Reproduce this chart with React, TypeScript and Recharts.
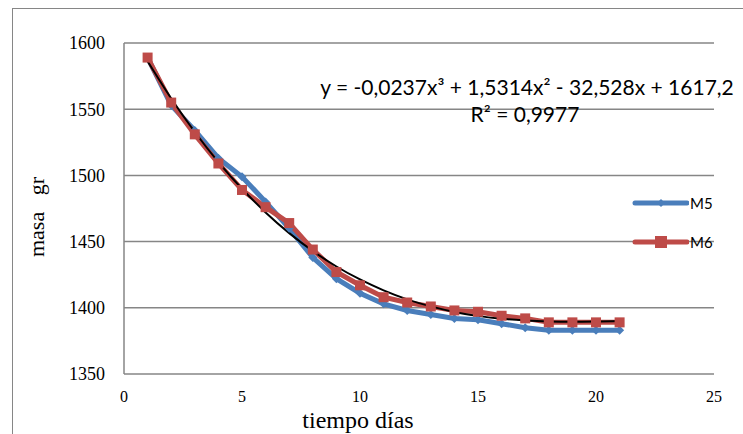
import React from 'react';
import { LineChart, Line, XAxis, YAxis, CartesianGrid, Customized } from 'recharts';

const days = [1, 2, 3, 4, 5, 6, 7, 8, 9, 10, 11, 12, 13, 14, 15, 16, 17, 18, 19, 20, 21];
const m5 = [1589, 1553, 1534, 1513, 1499, 1480, 1460, 1438, 1422, 1411, 1403, 1398, 1395, 1392, 1391, 1388, 1385, 1383, 1383, 1383, 1383];
const m6 = [1589, 1555, 1531, 1509, 1489, 1476, 1464, 1444, 1427, 1417, 1408, 1404, 1401, 1398, 1397, 1394, 1392, 1389, 1389, 1389, 1389];
const trend = [1586.2, 1558.1, 1532.8, 1510.1, 1489.9, 1472.0, 1456.4, 1442.9, 1431.2, 1421.4, 1413.2, 1406.4, 1401.1, 1396.9, 1393.9, 1391.7, 1390.4, 1389.7, 1389.5, 1389.6, 1390.0];
const xTicks = [0, 5, 10, 15, 20, 25];
const yTicks = [1350, 1400, 1450, 1500, 1550, 1600];
const seriesNames = ['M5', 'M6'];
const equationText = 'y = -0,0237x³ + 1,5314x² - 32,528x + 1617,2';
const r2Text = 'R² = 0,9977';
const xTitle = 'tiempo días';
const yTitle = 'masa   gr';

const BLUE = '#4A7EBB';
const RED = '#BE4B48';
const GRID = '#868686';
const SERIF = '"Liberation Serif", "Times New Roman", serif';
const SANS = 'Lato, "Open Sans", sans-serif';

const data = days.map((d, i) => ({ day: d, M5: m5[i], M6: m6[i], trend: trend[i] }));

const diamondDot = (props: any) => {
  const { cx, cy, index } = props;
  if (cx == null || cy == null) return <g key={`d5-${index}`} />;
  const r = 4.5;
  return (
    <polygon
      key={`d5-${index}`}
      points={`${cx},${cy - r} ${cx + r},${cy} ${cx},${cy + r} ${cx - r},${cy}`}
      fill={BLUE}
    />
  );
};

const squareDot = (props: any) => {
  const { cx, cy, index } = props;
  if (cx == null || cy == null) return <g key={`d6-${index}`} />;
  const s = 10;
  return <rect key={`d6-${index}`} x={cx - s / 2} y={cy - s / 2} width={s} height={s} fill={RED} />;
};

const LegendBox = () => (
  <div style={{ position: 'absolute', left: 631, top: 193, width: 110, fontFamily: SANS, fontSize: 15, color: '#000' }}>
    {seriesNames.map((name, i) => (
      <div key={name} style={{ display: 'flex', alignItems: 'center', height: 20, marginBottom: i === 0 ? 19 : 0 }}>
        <svg width={58} height={20} style={{ display: 'block' }}>
          <line x1={4} y1={10} x2={56} y2={10} stroke={i === 0 ? BLUE : RED} strokeWidth={5} strokeLinecap="round" />
          {i === 0 ? (
            <polygon points="30,6 34,10 30,14 26,10" fill={BLUE} />
          ) : (
            <rect x={24} y={4} width={12} height={12} fill={RED} />
          )}
        </svg>
        <span style={{ marginLeft: 1 }}>{name}</span>
      </div>
    ))}
  </div>
);

const Annotations = () => (
  <g>
    <text x={527} y={95} textAnchor="middle" fontFamily={SANS} fontSize={21} fill="#000">
      {equationText}
    </text>
    <text x={525} y={122} textAnchor="middle" fontFamily={SANS} fontSize={21} fill="#000">
      {r2Text}
    </text>
    <text x={358} y={428} textAnchor="middle" fontFamily={SERIF} fontSize={24} fill="#000">
      {xTitle}
    </text>
    <text
      x={0}
      y={0}
      transform="translate(44,217) rotate(-90)"
      textAnchor="middle"
      fontFamily={SERIF}
      fontSize={22}
      fill="#000"
      style={{ whiteSpace: 'pre' }}
    >
      {yTitle}
    </text>
  </g>
);

export default function App() {
  return (
    <div style={{ position: 'absolute', left: 0, top: 0, width: 743, height: 434, background: '#fff', overflow: 'hidden' }}>
      <div
        style={{
          position: 'absolute',
          left: 12,
          top: 8,
          width: 800,
          height: 600,
          borderLeft: `1.5px solid ${GRID}`,
          borderTop: `1.5px solid ${GRID}`,
        }}
      />
      <LineChart
        width={743}
        height={434}
        data={data}
        margin={{ top: 43, right: 29, bottom: 30, left: 64 }}
        style={{ position: 'absolute', left: 0, top: 0, fontFamily: SERIF }}
      >
        <CartesianGrid horizontal vertical={false} stroke={GRID} strokeWidth={1.5} />
        <XAxis
          dataKey="day"
          type="number"
          domain={[0, 25]}
          ticks={xTicks}
          interval={0}
          height={30}
          axisLine={false}
          tickLine={false}
          tickMargin={11}
          tick={{ fill: '#000', fontSize: 16, fontFamily: SERIF }}
        />
        <YAxis
          type="number"
          domain={[1350, 1600]}
          ticks={yTicks}
          interval={0}
          width={60}
          axisLine={{ stroke: GRID, strokeWidth: 1.5 }}
          tickLine={false}
          tickMargin={13}
          tick={{ fill: '#000', fontSize: 18, fontFamily: SERIF }}
        />
        <Line
          dataKey="M5"
          name="M5"
          stroke={BLUE}
          strokeWidth={5}
          dot={diamondDot}
          activeDot={false}
          isAnimationActive={false}
        />
        <Line
          dataKey="M6"
          name="M6"
          stroke={RED}
          strokeWidth={5}
          dot={squareDot}
          activeDot={false}
          isAnimationActive={false}
        />
        <Line
          dataKey="trend"
          name="trend"
          type="monotone"
          stroke="#000"
          strokeWidth={2}
          dot={false}
          activeDot={false}
          legendType="none"
          isAnimationActive={false}
        />
        <Customized component={Annotations} />
      </LineChart>
      <LegendBox />
    </div>
  );
}
